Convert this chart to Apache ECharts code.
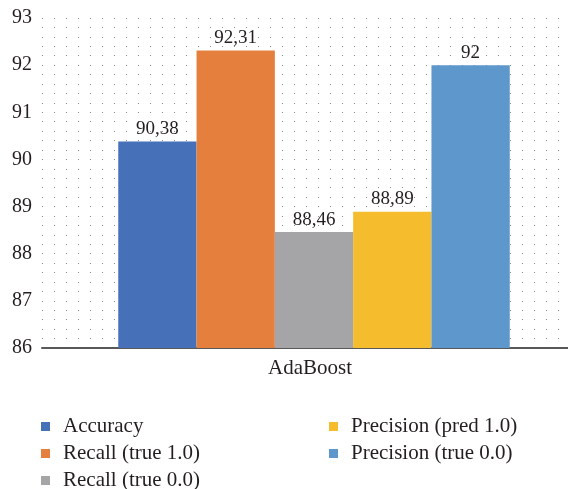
<!DOCTYPE html>
<html><head><meta charset="utf-8">
<script src="https://cdn.jsdelivr.net/npm/echarts@6/dist/echarts.min.js"></script>
<style>html,body{margin:0;padding:0;background:#fff}#c{width:568px;height:489px}</style>
</head><body><div id="c"></div>
<script>
const categories = ['AdaBoost'];
const seriesNames = ['Accuracy', 'Recall (true 1.0)', 'Recall (true 0.0)', 'Precision (pred 1.0)', 'Precision (true 0.0)'];
const seriesValues = [[90.38], [92.31], [88.46], [88.89], [92]];
const colors = ['#4671B8', '#E47F3E', '#A5A5A8', '#F5BC2D', '#5E97CB'];
const yMin = 86, yMax = 93;

const FONT = 'Liberation Serif';
const chart = echarts.init(document.getElementById('c'));
const fmt = v => String(v).replace('.', ',');
const series = seriesNames.map((n, i) => ({
  name: n, type: 'bar', data: seriesValues[i], barWidth: 78.3, barGap: '0%',
  itemStyle: { color: colors[i] },
  label: { show: true, position: 'top', distance: 3, formatter: p => fmt(p.value),
    fontFamily: FONT, fontSize: 19, color: '#231f20' }
}));
const legendText = { fontFamily: FONT, fontSize: 21, color: '#231f20', lineHeight: 18, padding: [0, 0, 0, 8] };
// legend slots: column-major layout, 3 rows in first column, 2 in second
const legendLeft = [41, 41, 41, 329, 329];
const legendTop = [416, 443, 470, 416, 443];
const legends = seriesNames.map((n, i) => ({
  data: [n], left: legendLeft[i], top: legendTop[i], icon: 'rect',
  itemWidth: 9, itemHeight: 9, padding: 0, textStyle: legendText
}));
chart.setOption({
  animation: false,
  grid: { left: 42, top: 18, width: 544, height: 330, outerBoundsMode: 'none', containLabel: false },
  xAxis: { type: 'category', data: categories,
    axisLine: { lineStyle: { color: '#595959', width: 2 } },
    axisTick: { show: false },
    axisLabel: { fontFamily: FONT, fontSize: 21, color: '#231f20', margin: 10, padding: [0, 8, 0, 0] },
    splitLine: { show: false } },
  yAxis: { type: 'value', min: yMin, max: yMax, interval: 1,
    axisLine: { show: false }, axisTick: { show: false },
    axisLabel: { fontFamily: FONT, fontSize: 20, color: '#231f20', margin: 10 },
    splitLine: { show: true, lineStyle: { color: '#8c8c8c', width: 1, type: [1, 11] } },
    minorTick: { show: false, splitNumber: 5 },
    minorSplitLine: { show: true, lineStyle: { color: '#8c8c8c', width: 1, type: [1, 11] } } },
  legend: legends,
  series
});
</script></body></html>
